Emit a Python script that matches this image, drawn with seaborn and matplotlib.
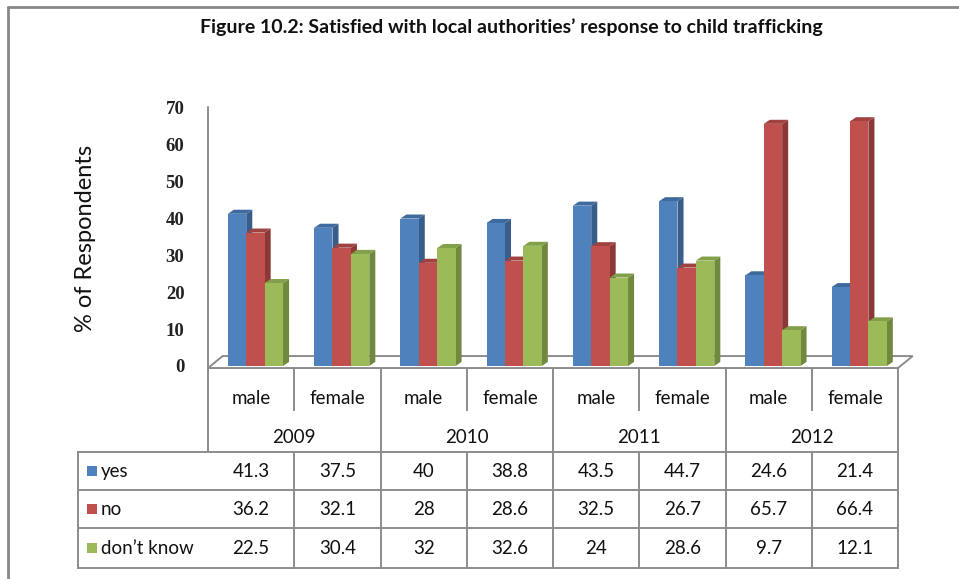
import numpy as np
import pandas as pd
import matplotlib.pyplot as plt
from matplotlib.patches import Polygon, Rectangle
from matplotlib.lines import Line2D
import seaborn as sns

# data
YEARS = ["2009", "2010", "2011", "2012"]
SEXES = ["male", "female"]
RESPONSES = ["yes", "no", "don’t know"]
YES = [41.3, 37.5, 40, 38.8, 43.5, 44.7, 24.6, 21.4]
NO = [36.2, 32.1, 28, 28.6, 32.5, 26.7, 65.7, 66.4]
DONT_KNOW = [22.5, 30.4, 32, 32.6, 24, 28.6, 9.7, 12.1]

FRONT = ["#4F81BD", "#C0504D", "#9BBB59"]
SIDE = ["#385D8A", "#8C3836", "#71893F"]
TOP = ["#3F6A9E", "#A04340", "#82A04A"]
GRID = "#8C8C8C"

W, H = 959, 579


def fx(px):
    return px / W


def fy(py):
    return 1 - py / H


groups = [f"{y} {s}" for y in YEARS for s in SEXES]
df = pd.DataFrame({
    "group": groups * 3,
    "response": np.repeat(RESPONSES, len(groups)),
    "value": YES + NO + DONT_KNOW,
})

sns.set_theme(style="white")
plt.rcParams["font.family"] = ["Lato", "DejaVu Sans"]

fig = plt.figure(figsize=(9.59, 5.79), dpi=100)
ax = fig.add_axes([fx(208), fy(366), fx(898) - fx(208), fy(108) - fy(366)])

sns.barplot(data=df, x="group", y="value", hue="response", order=groups,
            hue_order=RESPONSES, palette=FRONT, saturation=1, width=0.64,
            linewidth=0, ax=ax, legend=False, zorder=3)

ax.set_xlim(-0.5, 7.5)
ax.set_ylim(0, 70)
ax.set_yticks(range(0, 71, 10))
ax.set_xticks([])
ax.set_xlabel("")
ax.set_ylabel("")
ax.tick_params(axis="y", length=0, pad=17)
for lbl in ax.get_yticklabels():
    lbl.set_fontfamily("Liberation Serif")
    lbl.set_fontweight("bold")
    lbl.set_fontsize(13.5)
    lbl.set_color("#222222")
for sp in ax.spines.values():
    sp.set_visible(False)
ax.patch.set_alpha(0)

# fake 3d depth on each bar
DX, DY = 0.07, 1.1
for i, cont in enumerate(ax.containers):
    for bar in cont:
        bar.set_x(bar.get_x() + 0.05)
        x0, w, h = bar.get_x(), bar.get_width(), bar.get_height()
        side = [(x0 + w, 0), (x0 + w + DX, DY), (x0 + w + DX, h + DY), (x0 + w, h)]
        top = [(x0, h), (x0 + DX, h + DY), (x0 + w + DX, h + DY), (x0 + w, h)]
        ax.add_patch(Polygon(side, closed=True, facecolor=SIDE[i], lw=0, zorder=2))
        ax.add_patch(Polygon(top, closed=True, facecolor=TOP[i], lw=0, zorder=2))

# floor
floor = [(-0.5, -0.55), (7.5, -0.55), (7.67, 2.7), (-0.33, 2.7)]
ax.add_patch(Polygon(floor, closed=True, facecolor="white", edgecolor=GRID,
                     lw=1.4, zorder=1, clip_on=False))

# data table
tax = fig.add_axes([fx(78), fy(568), fx(898) - fx(78), fy(368) - fy(568)])
tax.axis("off")


def xpx(p):
    return -0.5 + (p - 208) / 86.25


x_left = xpx(78)
tax.set_xlim(x_left, 7.5)
tax.set_ylim(568, 368)

line_kw = dict(color=GRID, lw=1.4, solid_capstyle="projecting")
for yy in [452, 490, 528, 568]:
    tax.plot([x_left, 7.5], [yy, yy], clip_on=False, **line_kw)
tax.plot([x_left, x_left], [452, 568], clip_on=False, **line_kw)
for xx in [1.5, 3.5, 5.5, 7.5]:
    tax.plot([xx, xx], [368, 568], clip_on=False, **line_kw)
for xx in [0.5, 2.5, 4.5, 6.5]:
    tax.plot([xx, xx], [368, 410], clip_on=False, **line_kw)
    tax.plot([xx, xx], [452, 568], clip_on=False, **line_kw)

txt_kw = dict(ha="center", va="center", fontsize=13.5, color="#111111")
for i, g in enumerate(groups):
    tax.text(i, 398, g.split()[1], **txt_kw)
for k, y in enumerate(YEARS):
    tax.text(2 * k + 0.5, 437, y, **txt_kw)

row_y = [471, 509, 548]
for r, (name, vals) in enumerate(zip(RESPONSES, [YES, NO, DONT_KNOW])):
    tax.add_patch(Rectangle((xpx(87), row_y[r] - 5), xpx(97) - xpx(87), 10,
                            facecolor=FRONT[r], lw=0))
    tax.text(xpx(101), row_y[r], name, ha="left", va="center", fontsize=13.5,
             color="#111111")
    for i, v in enumerate(vals):
        tax.text(i, row_y[r], f"{v:g}", **txt_kw)

# value axis line running down into the table header
fig.add_artist(Line2D([fx(208)] * 2, [fy(107), fy(452)], color=GRID, lw=1.4))

# outer frame (top and left only)
fig.add_artist(Line2D([fx(8), 1], [fy(7), fy(7)], color="#888888", lw=2))
fig.add_artist(Line2D([fx(8), fx(8)], [fy(7), 0], color="#888888", lw=2))

fig.text(fx(511), fy(27), "Figure 10.2: Satisfied with local authorities’ response to child trafficking",
         ha="center", va="center", fontsize=14, fontweight="bold", color="#111111")
fig.text(fx(85), fy(238), "% of Respondents", rotation=90, ha="center",
         va="center", fontsize=17, color="#111111")

fig.savefig("out.png", dpi=100)
